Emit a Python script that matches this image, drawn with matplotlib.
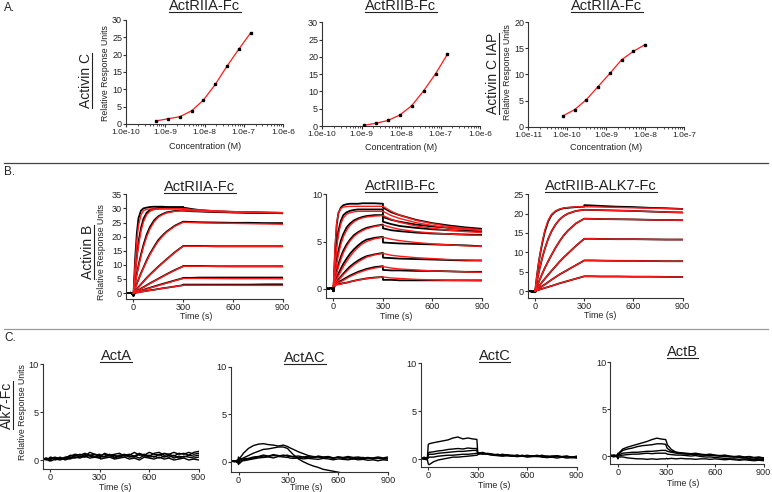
import matplotlib
matplotlib.use('Agg')
import matplotlib.pyplot as plt
from matplotlib.lines import Line2D
from matplotlib.ticker import LogLocator, NullFormatter
import numpy as np

plt.rcParams['font.family'] = ['Liberation Sans', 'DejaVu Sans']

# ---------------- DATA ----------------
# Panel A: equilibrium binding (concentration in nM, response in RU)
A1_conc_nM = [0.586, 1.17, 2.34, 4.69, 9.38, 18.75, 37.5, 75, 150]
A1_ru = [0.9, 1.5, 2.1, 3.8, 6.9, 11.4, 16.7, 21.6, 26.3]
A2_conc_nM = [1.17, 2.34, 4.69, 9.38, 18.75, 37.5, 75, 150]
A2_ru = [0.2, 0.8, 1.6, 3.2, 5.9, 10.2, 15.1, 20.8]
A3_conc_nM = [0.078, 0.156, 0.3125, 0.625, 1.25, 2.5, 5, 10]
A3_ru = [2.1, 3.3, 5.2, 7.7, 10.2, 12.8, 14.4, 15.7]
A12_xticks = [1e-10, 1e-9, 1e-8, 1e-7, 1e-6]
A12_xticklabels = ["1.0e-10", "1.0e-9", "1.0e-8", "1.0e-7", "1.0e-6"]
A3_xticks = [1e-11, 1e-10, 1e-9, 1e-8, 1e-7]
A3_xticklabels = ["1.0e-11", "1.0e-10", "1.0e-9", "1.0e-8", "1.0e-7"]

# Panel B: sensorgrams (time s, response RU)
B_t_data = [-45, -30, -15, -5, 0, 10, 20, 30, 45, 60, 80, 100, 125, 150, 175, 200, 250, 300,
            300, 350, 400, 500, 600, 700, 800, 900]
B_t_fit = [0, 10, 20, 30, 45, 60, 80, 100, 125, 150, 175, 200, 250, 300,
           350, 400, 500, 600, 700, 800, 900]

B1_data = [
    [0.1, 0.0, 0.1, -0.3, -0.9, 12, 21, 26.5, 29.2, 30.0, 30.3, 30.5, 30.6, 30.6, 30.6, 30.5, 30.5, 30.5, 30.3, 29.8, 29.4, 29.0, 28.8, 28.6, 28.5, 28.4],
    [0.1, 0.0, 0.1, -0.3, -0.9, 7, 13, 18, 23, 26.3, 28.5, 29.5, 29.9, 30.1, 30.2, 30.2, 30.2, 30.1, 29.8, 29.4, 29.1, 28.8, 28.6, 28.5, 28.4, 28.3],
    [0.1, 0.0, 0.1, -0.3, -0.9, 3.5, 6.8, 9.7, 13.6, 17, 20.8, 23.5, 25.8, 27.2, 28.0, 28.6, 29.1, 29.3, 29.2, 29.0, 28.9, 28.7, 28.6, 28.5, 28.4, 28.3],
    [0.1, 0.0, 0.1, -0.3, -0.9, 1.7, 3.3, 4.8, 7.0, 9.0, 11.7, 14.0, 16.5, 18.8, 20.4, 21.8, 23.9, 25.3, 25.3, 25.2, 25.1, 25.0, 24.9, 24.9, 24.8, 24.8],
    [0.1, 0.0, 0.1, -0.3, -0.9, 0.7, 1.4, 2.1, 3.1, 4.1, 5.4, 6.6, 8.0, 9.4, 10.7, 12.0, 14.5, 16.7, 16.7, 16.7, 16.7, 16.6, 16.6, 16.6, 16.6, 16.6],
    [0.1, 0.0, 0.1, -0.3, -0.9, 0.35, 0.7, 1.05, 1.6, 2.1, 2.8, 3.5, 4.3, 5.1, 5.9, 6.7, 8.2, 9.5, 9.6, 9.6, 9.6, 9.5, 9.5, 9.5, 9.5, 9.5],
    [0.1, 0.0, 0.1, -0.3, -0.9, 0.3, 0.45, 0.65, 0.9, 1.15, 1.55, 1.9, 2.35, 2.8, 3.25, 3.65, 4.5, 5.3, 5.4, 5.4, 5.5, 5.5, 5.5, 5.5, 5.5, 5.5],
    [0.1, 0.0, 0.1, -0.3, -0.9, 0.1, 0.2, 0.3, 0.45, 0.6, 0.8, 1.0, 1.2, 1.45, 1.7, 1.9, 2.35, 2.8, 3.0, 3.0, 3.0, 3.0, 3.0, 3.0, 3.1, 3.1],
]
B1_fit = [
    [0, 10.5, 18.5, 23.8, 27.6, 29.2, 29.7, 29.8, 29.8, 29.8, 29.8, 29.8, 29.8, 29.8, 29.5, 29.3, 29.0, 28.8, 28.7, 28.6, 28.5],
    [0, 6.5, 12, 16.6, 21.8, 25.2, 27.8, 29.0, 29.6, 29.8, 29.9, 29.9, 29.9, 29.9, 29.6, 29.4, 29.1, 28.8, 28.7, 28.6, 28.5],
    [0, 3.3, 6.4, 9.2, 13.0, 16.3, 20.0, 22.8, 25.3, 26.9, 27.8, 28.4, 29.0, 29.2, 29.1, 29.0, 28.8, 28.7, 28.6, 28.5, 28.4],
    [0, 1.6, 3.2, 4.7, 6.8, 8.8, 11.4, 13.7, 16.2, 18.4, 20.1, 21.6, 23.7, 25.1, 25.0, 24.9, 24.8, 24.7, 24.6, 24.5, 24.4],
    [0, 0.65, 1.3, 2.0, 3.0, 4.0, 5.3, 6.5, 7.9, 9.3, 10.6, 11.9, 14.4, 16.6, 16.6, 16.6, 16.5, 16.5, 16.5, 16.5, 16.5],
    [0, 0.33, 0.67, 1.0, 1.5, 2.0, 2.7, 3.4, 4.2, 5.0, 5.8, 6.6, 8.1, 9.5, 9.5, 9.5, 9.5, 9.4, 9.4, 9.4, 9.4],
    [0, 0.18, 0.36, 0.54, 0.8, 1.07, 1.43, 1.78, 2.22, 2.66, 3.1, 3.52, 4.37, 5.2, 5.2, 5.2, 5.15, 5.1, 5.1, 5.1, 5.05],
    [0, 0.1, 0.19, 0.29, 0.43, 0.57, 0.76, 0.95, 1.18, 1.42, 1.65, 1.88, 2.33, 2.78, 2.78, 2.77, 2.76, 2.75, 2.74, 2.73, 2.72],
]

B2_data = [
    [0.05, 0.0, 0.1, 0.0, -0.25, 4.0, 6.8, 8.0, 8.6, 8.85, 8.95, 9.0, 9.0, 9.0, 9.05, 9.05, 9.05, 9.0, 8.6, 8.1, 7.8, 7.3, 6.95, 6.7, 6.5, 6.35],
    [0.05, 0.0, 0.1, 0.0, -0.25, 2.8, 4.8, 6.1, 7.2, 7.8, 8.1, 8.25, 8.35, 8.4, 8.4, 8.4, 8.4, 8.4, 7.6, 7.3, 7.1, 6.8, 6.6, 6.45, 6.35, 6.25],
    [0.05, 0.0, 0.1, 0.0, -0.25, 1.8, 3.0, 4.0, 5.1, 5.8, 6.5, 6.9, 7.25, 7.45, 7.6, 7.7, 7.8, 7.8, 7.1, 6.85, 6.65, 6.45, 6.3, 6.2, 6.15, 6.1],
    [0.05, 0.0, 0.1, 0.0, -0.25, 1.2, 1.9, 2.6, 3.4, 4.05, 4.7, 5.2, 5.7, 6.0, 6.25, 6.45, 6.65, 6.8, 6.4, 6.2, 6.1, 5.95, 5.85, 5.8, 5.75, 5.7],
    [0.05, 0.0, 0.1, 0.0, -0.25, 0.9, 1.2, 1.6, 2.15, 2.65, 3.2, 3.7, 4.2, 4.6, 4.95, 5.2, 5.4, 5.5, 4.9, 4.85, 4.8, 4.75, 4.7, 4.65, 4.6, 4.5],
    [0.05, 0.0, 0.1, 0.0, -0.25, 0.8, 0.85, 1.0, 1.3, 1.6, 2.0, 2.35, 2.7, 3.0, 3.25, 3.45, 3.65, 3.8, 3.3, 3.25, 3.2, 3.15, 3.1, 3.05, 3.0, 3.0],
    [0.05, 0.0, 0.1, 0.0, -0.25, 0.7, 0.7, 0.75, 0.85, 1.0, 1.2, 1.4, 1.6, 1.8, 1.95, 2.1, 2.3, 2.4, 2.0, 1.95, 1.95, 1.9, 1.9, 1.85, 1.8, 1.8],
    [0.05, 0.0, 0.1, 0.0, -0.25, 0.6, 0.55, 0.55, 0.55, 0.6, 0.65, 0.75, 0.85, 0.95, 1.02, 1.1, 1.2, 1.25, 0.95, 0.95, 0.9, 0.9, 0.9, 0.9, 0.9, 0.9],
]
B2_fit = [
    [0.3, 4.5, 7.0, 8.0, 8.5, 8.65, 8.7, 8.72, 8.73, 8.73, 8.73, 8.73, 8.73, 8.73, 8.2, 7.8, 7.25, 6.9, 6.6, 6.4, 6.25],
    [0.3, 2.6, 4.4, 5.7, 6.9, 7.5, 7.9, 8.05, 8.15, 8.2, 8.2, 8.2, 8.2, 8.2, 7.75, 7.45, 7.0, 6.7, 6.45, 6.3, 6.15],
    [0.3, 1.6, 2.7, 3.6, 4.7, 5.5, 6.2, 6.7, 7.1, 7.35, 7.5, 7.6, 7.7, 7.75, 7.35, 7.05, 6.65, 6.4, 6.2, 6.05, 5.95],
    [0.3, 1.0, 1.65, 2.3, 3.1, 3.8, 4.5, 5.05, 5.55, 5.9, 6.15, 6.35, 6.6, 6.75, 6.5, 6.3, 6.05, 5.9, 5.8, 5.7, 5.65],
    [0.3, 0.65, 1.0, 1.35, 1.85, 2.35, 2.9, 3.4, 3.95, 4.4, 4.75, 5.0, 5.3, 5.45, 5.25, 5.1, 4.9, 4.75, 4.65, 4.55, 4.5],
    [0.3, 0.5, 0.7, 0.9, 1.2, 1.5, 1.85, 2.2, 2.55, 2.85, 3.1, 3.35, 3.6, 3.75, 3.55, 3.45, 3.3, 3.2, 3.1, 3.05, 3.0],
    [0.3, 0.4, 0.5, 0.6, 0.75, 0.9, 1.1, 1.3, 1.5, 1.7, 1.85, 2.0, 2.2, 2.35, 2.2, 2.1, 2.0, 1.9, 1.85, 1.8, 1.75],
    [0.3, 0.35, 0.4, 0.45, 0.5, 0.58, 0.66, 0.74, 0.84, 0.93, 1.0, 1.07, 1.17, 1.25, 1.15, 1.1, 1.0, 0.95, 0.9, 0.88, 0.85],
]

B3_data = [
    [-0.1, 0.0, -0.2, 0.0, -0.3, 3.5, 6.7, 9.4, 12.6, 15.4, 18.0, 19.6, 20.6, 21.1, 21.4, 21.5, 21.7, 21.8, 22.2, 22.1, 22.0, 21.8, 21.7, 21.5, 21.4, 21.2],
    [-0.1, 0.0, -0.2, 0.0, -0.3, 2.2, 4.3, 6.2, 8.8, 11.0, 13.5, 15.4, 17.2, 18.5, 19.4, 20.0, 20.7, 21.0, 21.0, 20.95, 20.9, 20.8, 20.7, 20.55, 20.4, 20.3],
    [-0.1, 0.0, -0.2, 0.0, -0.3, 1.1, 2.1, 3.1, 4.6, 6.0, 7.7, 9.3, 11.2, 12.9, 14.4, 15.6, 17.5, 18.7, 18.7, 18.65, 18.6, 18.55, 18.5, 18.4, 18.35, 18.3],
    [-0.1, 0.0, -0.2, 0.0, -0.3, 0.55, 1.1, 1.6, 2.4, 3.2, 4.2, 5.2, 6.4, 7.6, 8.7, 9.7, 11.7, 13.5, 13.5, 13.5, 13.45, 13.4, 13.4, 13.35, 13.3, 13.3],
    [-0.1, 0.0, -0.2, 0.0, -0.3, 0.3, 0.6, 0.9, 1.3, 1.7, 2.3, 2.9, 3.6, 4.3, 4.9, 5.5, 6.7, 7.9, 7.9, 7.9, 7.85, 7.8, 7.8, 7.75, 7.7, 7.7],
    [-0.1, 0.0, -0.2, 0.0, -0.3, 0.13, 0.26, 0.4, 0.6, 0.8, 1.05, 1.3, 1.65, 2.0, 2.3, 2.6, 3.2, 3.8, 3.8, 3.8, 3.75, 3.75, 3.7, 3.7, 3.65, 3.6],
]
B3_fit = [
    [0, 3.6, 6.8, 9.6, 13.0, 15.8, 18.3, 19.8, 20.7, 21.2, 21.45, 21.6, 21.75, 21.8, 21.75, 21.7, 21.6, 21.5, 21.4, 21.3, 21.2],
    [0, 2.2, 4.3, 6.2, 8.8, 11.0, 13.5, 15.4, 17.2, 18.5, 19.4, 20.0, 20.7, 21.0, 20.95, 20.9, 20.8, 20.7, 20.55, 20.4, 20.3],
    [0, 1.1, 2.1, 3.1, 4.6, 6.0, 7.7, 9.3, 11.2, 12.9, 14.4, 15.6, 17.5, 18.7, 18.65, 18.6, 18.55, 18.5, 18.4, 18.35, 18.3],
    [0, 0.55, 1.1, 1.6, 2.4, 3.2, 4.2, 5.2, 6.4, 7.6, 8.7, 9.7, 11.7, 13.5, 13.5, 13.45, 13.4, 13.4, 13.35, 13.3, 13.3],
    [0, 0.3, 0.6, 0.9, 1.3, 1.7, 2.3, 2.9, 3.6, 4.3, 4.9, 5.5, 6.7, 7.9, 7.9, 7.85, 7.8, 7.8, 7.75, 7.7, 7.7],
    [0, 0.13, 0.26, 0.4, 0.6, 0.8, 1.05, 1.3, 1.65, 2.0, 2.3, 2.6, 3.2, 3.8, 3.8, 3.75, 3.75, 3.7, 3.7, 3.65, 3.6],
]

# Panel C: ALK7-Fc sensorgrams
C_t = [-45, -25, -5, 0, 5, 30, 60, 90, 120, 150, 180, 210, 240, 270, 295, 300, 305,
       330, 360, 390, 420, 450, 480, 510, 540, 570, 600, 630, 660, 690, 720, 750, 780, 810, 840, 870, 900]
C1_ActA = [
    [0.1, 0.2, 0.0, 0.2, 0.1, 0.2, 0.1, 0.3, 0.4, 0.6, 0.5, 0.7, 0.5, 0.6, 0.5, 0.6, 0.5, 0.6, 0.4, 0.5, 0.3, 0.5, 0.6, 0.4, 0.7, 0.5, 0.8, 0.6, 0.5, 0.7, 0.6, 0.8, 0.6, 0.7, 0.5, 0.8, 0.9],
    [0.0, 0.1, 0.2, -0.1, 0.3, 0.0, 0.2, 0.1, 0.5, 0.4, 0.6, 0.4, 0.8, 0.6, 0.4, 0.5, 0.4, 0.7, 0.5, 0.6, 0.7, 0.4, 0.5, 0.8, 0.5, 0.6, 0.4, 0.7, 0.8, 0.5, 0.6, 0.4, 0.7, 0.6, 0.8, 0.6, 0.7],
    [0.2, 0.0, 0.1, 0.3, -0.1, 0.1, 0.0, 0.2, 0.3, 0.2, 0.4, 0.3, 0.5, 0.4, 0.3, 0.2, 0.4, 0.3, 0.5, 0.2, 0.4, 0.5, 0.3, 0.4, 0.2, 0.5, 0.3, 0.4, 0.2, 0.4, 0.3, 0.5, 0.2, 0.4, 0.3, 0.2, 0.3],
    [0.1, 0.1, -0.1, 0.1, 0.2, 0.1, 0.3, 0.0, 0.2, 0.5, 0.3, 0.6, 0.4, 0.3, 0.6, 0.5, 0.3, 0.4, 0.6, 0.3, 0.5, 0.6, 0.4, 0.3, 0.6, 0.4, 0.5, 0.3, 0.6, 0.3, 0.5, 0.2, 0.4, 0.3, 0.5, 0.4, 0.5],
    [0.0, 0.2, 0.1, 0.0, 0.2, 0.3, 0.1, 0.2, 0.1, 0.3, 0.2, 0.4, 0.2, 0.3, 0.2, 0.3, 0.1, 0.2, 0.3, 0.1, 0.2, 0.3, 0.1, 0.2, 0.0, 0.3, 0.2, 0.1, 0.3, 0.1, 0.2, 0.0, 0.1, 0.2, 0.0, 0.1, 0.0],
]
C2_ActAC = [
    [0.0, 0.1, -0.1, 0.1, 0.3, 0.9, 1.4, 1.7, 1.85, 1.9, 1.8, 1.75, 1.65, 1.75, 1.6, 1.55, 1.5, 1.3, 1.05, 0.85, 0.65, 0.55, 0.5, 0.45, 0.5, 0.4, 0.45, 0.35, 0.4, 0.3, 0.35, 0.3, 0.4, 0.3, 0.35, 0.3, 0.3],
    [0.1, 0.0, 0.1, -0.2, 0.2, 0.4, 0.65, 0.9, 1.1, 1.3, 1.35, 1.45, 1.55, 1.55, 1.4, 1.3, 1.2, 0.75, 0.3, 0.0, -0.25, -0.45, -0.6, -0.8, -0.9, -1.0, -1.1, -1.2, -1.3, -1.4, -1.5, -1.6, -1.7, -1.8, -1.9, -2.0, -2.1],
    [0.0, 0.1, 0.0, 0.3, -0.2, 0.2, 0.3, 0.4, 0.5, 0.6, 0.55, 0.65, 0.6, 0.7, 0.6, 0.55, 0.6, 0.5, 0.45, 0.5, 0.4, 0.45, 0.5, 0.4, 0.45, 0.35, 0.5, 0.4, 0.45, 0.35, 0.4, 0.45, 0.35, 0.4, 0.5, 0.4, 0.5],
    [0.1, 0.0, 0.2, -0.3, 0.4, 0.1, 0.2, 0.3, 0.4, 0.45, 0.5, 0.4, 0.55, 0.5, 0.45, 0.5, 0.4, 0.35, 0.4, 0.3, 0.35, 0.3, 0.25, 0.35, 0.3, 0.2, 0.3, 0.25, 0.2, 0.3, 0.2, 0.25, 0.15, 0.2, 0.1, 0.2, 0.15],
    [0.0, 0.1, -0.1, 0.5, 0.0, 0.3, 0.35, 0.5, 0.55, 0.7, 0.6, 0.75, 0.65, 0.6, 0.7, 0.65, 0.6, 0.55, 0.6, 0.5, 0.55, 0.45, 0.6, 0.5, 0.55, 0.4, 0.5, 0.45, 0.55, 0.45, 0.5, 0.4, 0.45, 0.35, 0.4, 0.3, 0.35],
]
C3_ActC = [
    [0.1, 0.0, 0.2, 1.5, 1.6, 1.7, 1.8, 1.9, 2.0, 2.2, 2.3, 2.1, 2.2, 2.1, 2.05, 0.7, 0.6, 0.5, 0.6, 0.5, 0.4, 0.5, 0.4, 0.3, 0.4, 0.3, 0.35, 0.3, 0.4, 0.25, 0.3, 0.2, 0.3, 0.25, 0.3, 0.2, 0.25],
    [0.0, 0.1, 0.1, 0.6, 0.7, 0.75, 0.85, 0.9, 1.0, 1.05, 1.1, 1.05, 1.15, 1.1, 1.1, 0.6, 0.55, 0.6, 0.5, 0.45, 0.5, 0.4, 0.45, 0.35, 0.4, 0.3, 0.35, 0.3, 0.35, 0.25, 0.3, 0.25, 0.3, 0.2, 0.25, 0.2, 0.2],
    [0.1, 0.0, 0.1, 0.4, 0.5, 0.5, 0.6, 0.65, 0.7, 0.75, 0.8, 0.8, 0.85, 0.9, 0.9, 0.55, 0.6, 0.7, 0.5, 0.45, 0.4, 0.45, 0.35, 0.4, 0.3, 0.4, 0.3, 0.35, 0.3, 0.4, 0.25, 0.3, 0.35, 0.25, 0.3, 0.2, 0.3],
    [0.0, 0.2, 0.0, 0.1, 0.2, 0.2, 0.3, 0.35, 0.4, 0.4, 0.45, 0.5, 0.5, 0.55, 0.6, 0.6, 0.65, 0.6, 0.55, 0.5, 0.4, 0.35, 0.4, 0.3, 0.35, 0.3, 0.4, 0.3, 0.25, 0.3, 0.2, 0.3, 0.25, 0.2, 0.25, 0.15, 0.2],
    [0.1, 0.0, -0.1, -0.5, -0.6, -0.3, -0.1, 0.0, 0.1, 0.2, 0.2, 0.25, 0.3, 0.35, 0.4, 0.45, 0.5, 0.6, 0.5, 0.4, 0.35, 0.3, 0.35, 0.3, 0.25, 0.3, 0.2, 0.25, 0.3, 0.2, 0.15, 0.2, 0.1, 0.2, 0.1, 0.15, 0.1],
]
C4_ActB = [
    [0.0, 0.1, 0.0, 0.1, 0.3, 0.75, 0.95, 1.1, 1.25, 1.4, 1.55, 1.75, 1.9, 1.8, 1.75, 1.5, 1.2, 0.7, 0.4, 0.35, 0.3, 0.25, 0.3, 0.2, 0.15, 0.2, 0.1, 0.05, 0.1, 0.0, -0.05, 0.0, -0.1, -0.05, -0.15, -0.1, -0.2],
    [0.1, 0.0, 0.1, 0.0, 0.2, 0.6, 0.75, 0.85, 1.0, 1.1, 1.15, 1.2, 1.3, 1.3, 1.25, 1.0, 0.8, 0.5, 0.4, 0.3, 0.25, 0.2, 0.25, 0.15, 0.1, 0.15, 0.05, 0.0, 0.05, -0.05, -0.1, -0.05, -0.15, -0.1, -0.2, -0.15, -0.2],
    [0.0, -0.1, 0.1, 0.2, 0.1, 0.3, 0.35, 0.4, 0.4, 0.45, 0.5, 0.5, 0.55, 0.6, 0.6, 0.55, 0.5, 0.4, 0.3, 0.25, 0.2, 0.2, 0.15, 0.1, 0.1, 0.05, 0.05, 0.0, -0.05, -0.1, -0.1, -0.15, -0.2, -0.25, -0.2, -0.3, -0.3],
    [0.1, 0.0, -0.1, 0.3, 0.0, 0.1, 0.15, 0.2, 0.2, 0.25, 0.3, 0.25, 0.3, 0.3, 0.3, 0.25, 0.2, 0.15, 0.1, 0.1, 0.05, 0.0, 0.05, -0.05, -0.1, -0.1, -0.15, -0.2, -0.25, -0.3, -0.3, -0.35, -0.3, -0.35, -0.4, -0.35, -0.4],
    [0.0, 0.1, 0.0, -0.3, -0.1, -0.1, -0.2, -0.25, -0.3, -0.3, -0.35, -0.3, -0.35, -0.3, -0.3, -0.25, -0.3, -0.25, -0.3, -0.25, -0.3, -0.3, -0.35, -0.3, -0.3, -0.35, -0.3, -0.35, -0.4, -0.35, -0.4, -0.45, -0.4, -0.45, -0.5, -0.45, -0.5],
]
time_ticks = [0, 300, 600, 900]

# ---------------- FIGURE ----------------
W, H = 772, 492
fig = plt.figure(figsize=(W / 100, H / 100), dpi=100)
TXT = '#222222'
RED = '#ff1a1a'

def rect(l, r, t, b):
    return [l / W, 1 - b / H, (r - l) / W, (b - t) / H]

def ftext(x, y, s, **kw):
    kw.setdefault('ha', 'center')
    kw.setdefault('va', 'center')
    kw.setdefault('color', TXT)
    return fig.text(x / W, 1 - y / H, s, **kw)

under = []

def style(ax, lsize=6.6):
    for s in ['top', 'right']:
        ax.spines[s].set_visible(False)
    for s in ['left', 'bottom']:
        ax.spines[s].set_linewidth(0.8)
        ax.spines[s].set_color('#333333')
    ax.tick_params(direction='out', length=2.2, width=0.8, colors='#333333',
                   labelsize=lsize, labelcolor=TXT, pad=0.6)
    ax.patch.set_alpha(0)

def panelA(r, conc, ru, ylim, yticks, xlim, xticks, xticklabels):
    ax = fig.add_axes(rect(*r))
    style(ax, 6.0)
    x = [c * 1e-9 for c in conc]
    ax.plot(x, ru, color=RED, lw=0.9, zorder=2)
    ax.plot(x, ru, 's', color='black', ms=1.6, zorder=3)
    ax.set_xscale('log')
    ax.set_xlim(*xlim)
    ax.set_ylim(*ylim)
    ax.set_yticks(yticks)
    ax.set_xticks(xticks)
    ax.set_xticklabels(xticklabels)
    ax.tick_params(axis='y', labelsize=6.5)
    ax.tick_params(axis='x', pad=1.2)
    ax.xaxis.set_minor_locator(LogLocator(base=10, subs=np.arange(2, 10)))
    ax.xaxis.set_minor_formatter(NullFormatter())
    ax.tick_params(which='minor', direction='out', length=1.5, width=0.6, colors='#333333')
    return ax

panelA((126, 283, 20, 124), A1_conc_nM, A1_ru, (0, 30), range(0, 31, 5), (1e-10, 1e-6), A12_xticks, A12_xticklabels)
panelA((322, 480, 22.3, 126), A2_conc_nM, A2_ru, (0, 30), range(0, 31, 5), (1e-10, 1e-6), A12_xticks, A12_xticklabels)
panelA((528, 684, 22, 127), A3_conc_nM, A3_ru, (0, 20), range(0, 21, 5), (1e-11, 1e-7), A3_xticks, A3_xticklabels)

def panelB(r, data, fit, ylim, yticks):
    ax = fig.add_axes(rect(*r))
    style(ax)
    for d in data:
        ax.plot(B_t_data, d, color='black', lw=1.3, zorder=2)
    for f in fit:
        ax.plot(B_t_fit, f, color=RED, lw=1.0, zorder=3)
    ax.set_xlim(-45, 900)
    ax.set_ylim(*ylim)
    ax.set_yticks(yticks)
    ax.set_xticks(time_ticks)
    return ax

panelB((126, 282.7, 194.3, 299.3), B1_data, B1_fit, (-2.2, 35), range(0, 36, 5))
panelB((326, 482, 194.3, 298.3), B2_data, B2_fit, (-1.0, 10), [0, 5, 10])
panelB((527.7, 682.7, 194.3, 297.7), B3_data, B3_fit, (-1.73, 25), range(0, 26, 5))

def panelC(r, traces, ylim):
    ax = fig.add_axes(rect(*r))
    style(ax)
    for tr in traces:
        ax.plot(C_t, tr, color='black', lw=1.0, zorder=2)
    ax.set_xlim(-47, 900)
    ax.set_ylim(*ylim)
    ax.set_yticks([0, 5, 10])
    ax.set_xticks(time_ticks)
    return ax

panelC((42.5, 198.7, 364.3, 469), C1_ActA, (-0.94, 10))
panelC((230.7, 388, 366.7, 471.7), C2_ActAC, (-1.05, 10))
panelC((420.5, 576.7, 363.3, 466.7), C3_ActC, (-0.8, 10))
panelC((610.3, 763.7, 362, 464.3), C4_ActB, (-0.88, 10))

# ---------------- TEXT ----------------
TS = 10.5
for x, y, s in [(205, 6.5, 'ActRIIA-Fc'), (401, 6.5, 'ActRIIB-Fc'), (607, 6.5, 'ActRIIA-Fc'),
                (200, 187, 'ActRIIA-Fc'), (401, 186, 'ActRIIB-Fc'), (601, 186, 'ActRIIB-ALK7-Fc'),
                (116, 356.5, 'ActA'), (305, 358, 'ActAC'), (494.5, 356.5, 'ActC'), (682, 352.5, 'ActB')]:
    under.append((ftext(x, y, s, fontsize=TS), False))

for x, y, s in [(86, 80, 'Activin C'), (493, 73.5, 'Activin C IAP'), (88, 252, 'Activin B'), (7, 405, 'Alk7-Fc')]:
    under.append((ftext(x, y, s, fontsize=10, rotation=90), True))

for x, y in [(105, 73.5), (508, 72.5), (101, 252), (22.5, 412)]:
    ftext(x, y, 'Relative Response Units', fontsize=6.3, rotation=90)

for x, y in [(205, 146.5), (401, 147.5), (606, 148)]:
    ftext(x, y, 'Concentration (M)', fontsize=6.5)

for x, y in [(196, 316.5), (396, 316.5), (600, 316), (115, 487.5), (306, 488), (494, 485), (683.5, 483)]:
    ftext(x, y, 'Time (s)', fontsize=6.4)

for y, s in [(8, 'A.'), (172, 'B.'), (338, 'C.')]:
    ftext(4, y, s, fontsize=8.5, ha='left')

fig.add_artist(Line2D([4 / W, 768 / W], [1 - 163 / H] * 2, color='#444444', lw=0.9))
fig.add_artist(Line2D([4 / W, 768 / W], [1 - 329 / H] * 2, color='#999999', lw=0.9))

fig.canvas.draw()
rend = fig.canvas.get_renderer()
for t, vert in under:
    bb = t.get_window_extent(rend)
    em = t.get_fontsize() * 100 / 72
    if vert:
        x = bb.x1 - 0.1 * em
        fig.add_artist(Line2D([x / W, x / W], [bb.y0 / H, bb.y1 / H], color=TXT, lw=0.8))
    else:
        y = bb.y0 + 0.1 * em
        fig.add_artist(Line2D([bb.x0 / W, bb.x1 / W], [y / H, y / H], color=TXT, lw=0.8))

fig.savefig('out.png', dpi=100)
